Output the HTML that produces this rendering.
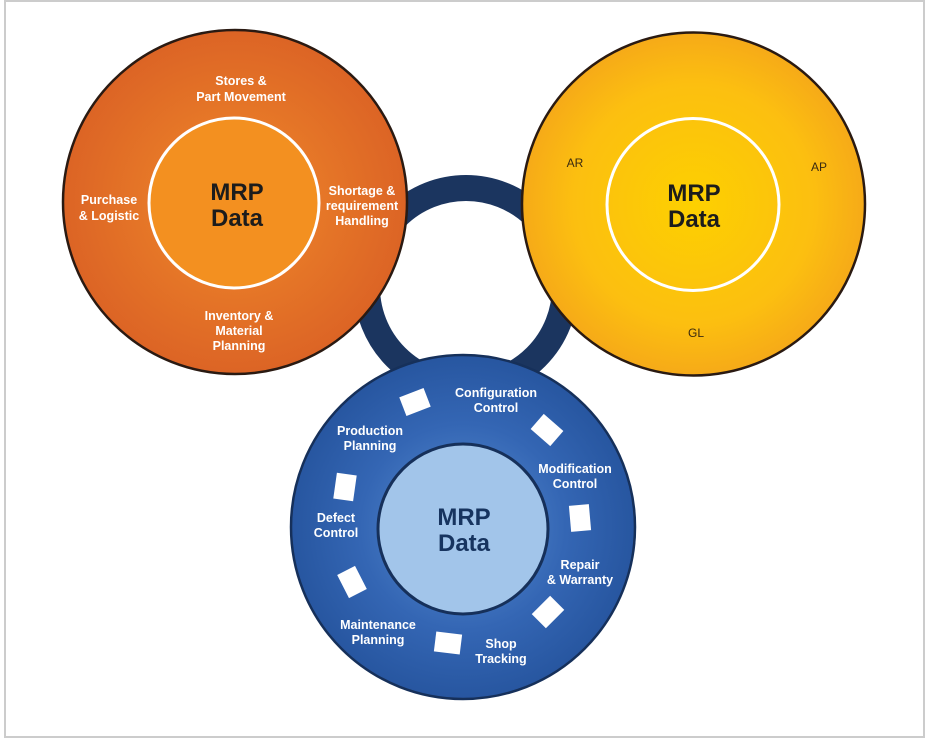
<!DOCTYPE html>
<html><head><meta charset="utf-8"><style>
html,body{margin:0;padding:0;background:#fff}
svg{display:block}
text{font-family:"Liberation Sans",Arial,sans-serif;font-weight:bold}
.w{fill:#fff;font-size:12.5px}
.m{font-size:24px;font-weight:900}
</style></head><body>
<svg width="927" height="740" viewBox="0 0 927 740">
<defs>
<radialGradient id="og" cx="50%" cy="50%" r="50%"><stop offset="0" stop-color="#f08a2a"/><stop offset="1" stop-color="#dc6425"/></radialGradient>
<radialGradient id="yg" cx="50%" cy="50%" r="50%"><stop offset="0" stop-color="#fdd000"/><stop offset="0.7" stop-color="#fcbf10"/><stop offset="1" stop-color="#f6aa18"/></radialGradient>
<radialGradient id="bg" cx="50%" cy="50%" r="50%"><stop offset="0" stop-color="#5a8fd2"/><stop offset="0.6" stop-color="#3466b4"/><stop offset="1" stop-color="#2756a0"/></radialGradient>
</defs>
<rect x="5" y="1" width="919" height="736" fill="none" stroke="#cccccc" stroke-width="2"/>
<circle cx="466" cy="287" r="99" fill="none" stroke="#1b355f" stroke-width="26"/>
<!-- orange -->
<circle cx="235" cy="202" r="172" fill="url(#og)" stroke="#2a1a12" stroke-width="2.5"/>
<circle cx="234" cy="203" r="85" fill="#f39020" stroke="#fff" stroke-width="3"/>
<text class="m" x="237" y="200" text-anchor="middle" fill="#1c1c1c">MRP</text>
<text class="m" x="237" y="226" text-anchor="middle" fill="#1c1c1c">Data</text>
<text class="w" x="241" y="85" text-anchor="middle">Stores &amp;</text>
<text class="w" x="241" y="101" text-anchor="middle">Part Movement</text>
<text class="w" x="109" y="204" text-anchor="middle">Purchase</text>
<text class="w" x="109" y="220" text-anchor="middle">&amp; Logistic</text>
<text class="w" x="362" y="195" text-anchor="middle">Shortage &amp;</text>
<text class="w" x="362" y="210" text-anchor="middle">requirement</text>
<text class="w" x="362" y="225" text-anchor="middle">Handling</text>
<text class="w" x="239" y="320" text-anchor="middle">Inventory &amp;</text>
<text class="w" x="239" y="335" text-anchor="middle">Material</text>
<text class="w" x="239" y="350" text-anchor="middle">Planning</text>
<!-- yellow -->
<circle cx="693.5" cy="204" r="171.5" fill="url(#yg)" stroke="#2a1a12" stroke-width="2.5"/>
<circle cx="693" cy="204.5" r="86" fill="none" stroke="#fff" stroke-width="3"/>
<text class="m" x="694" y="201" text-anchor="middle" fill="#1c1c1c">MRP</text>
<text class="m" x="694" y="227" text-anchor="middle" fill="#1c1c1c">Data</text>
<text x="575" y="167" text-anchor="middle" font-size="12" fill="#3a2a10" style="font-weight:normal">AR</text>
<text x="819" y="171" text-anchor="middle" font-size="12" fill="#3a2a10" style="font-weight:normal">AP</text>
<text x="696" y="337" text-anchor="middle" font-size="12" fill="#3a2a10" style="font-weight:normal">GL</text>
<!-- blue -->
<circle cx="463" cy="527" r="172" fill="url(#bg)" stroke="#16305a" stroke-width="2.5"/>
<circle cx="463" cy="529" r="85" fill="#a2c5ea" stroke="#16305a" stroke-width="3"/>
<text class="m" x="464" y="525" text-anchor="middle" fill="#17345f">MRP</text>
<text class="m" x="464" y="551" text-anchor="middle" fill="#17345f">Data</text>
<g fill="#fff">
<rect x="-13" y="-10" width="26" height="20" transform="translate(415,402) rotate(-21)"/>
<rect x="-13" y="-10" width="26" height="20" transform="translate(547,430) rotate(41)"/>
<rect x="-10" y="-13" width="20" height="26" transform="translate(580,518) rotate(-5)"/>
<rect x="-13" y="-10" width="26" height="20" transform="translate(548,612) rotate(-45)"/>
<rect x="-13" y="-10" width="26" height="20" transform="translate(448,643) rotate(7)"/>
<rect x="-10" y="-13" width="20" height="26" transform="translate(352,582) rotate(-27)"/>
<rect x="-10" y="-13" width="20" height="26" transform="translate(345,487) rotate(8)"/>
</g>
<text class="w" x="496" y="397" text-anchor="middle">Configuration</text>
<text class="w" x="496" y="412" text-anchor="middle">Control</text>
<text class="w" x="370" y="435" text-anchor="middle">Production</text>
<text class="w" x="370" y="450" text-anchor="middle">Planning</text>
<text class="w" x="575" y="473" text-anchor="middle">Modification</text>
<text class="w" x="575" y="488" text-anchor="middle">Control</text>
<text class="w" x="336" y="522" text-anchor="middle">Defect</text>
<text class="w" x="336" y="537" text-anchor="middle">Control</text>
<text class="w" x="580" y="569" text-anchor="middle">Repair</text>
<text class="w" x="580" y="584" text-anchor="middle">&amp; Warranty</text>
<text class="w" x="378" y="629" text-anchor="middle">Maintenance</text>
<text class="w" x="378" y="644" text-anchor="middle">Planning</text>
<text class="w" x="501" y="648" text-anchor="middle">Shop</text>
<text class="w" x="501" y="663" text-anchor="middle">Tracking</text>
</svg>
</body></html>
